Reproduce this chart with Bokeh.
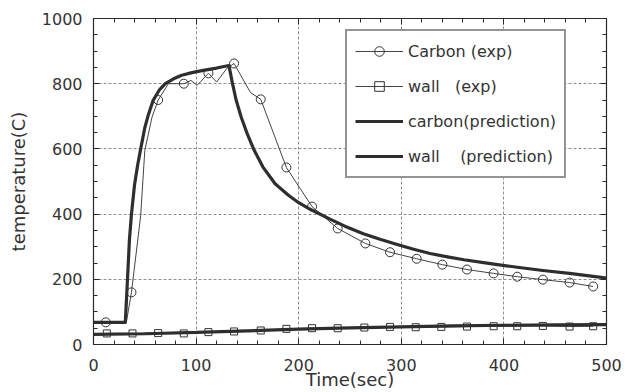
from bokeh.plotting import figure
from bokeh.models import (ColumnDataSource, Legend, LegendItem, LinearAxis,
                          SingleIntervalTicker, Range1d, CustomJSTickFormatter)
from bokeh.embed import file_html
from bokeh.resources import INLINE

# ---- data ----
# carbon experiment: recorded trace and the points marked with circles
carbon_exp_line_t = [12, 32, 37, 46, 50, 57, 63, 73, 88, 95, 101, 112, 120, 130,
                     137, 153, 163, 188, 213, 238, 265, 289, 315, 340, 364, 390,
                     413, 438, 464, 487]
carbon_exp_line_T = [68, 68, 160, 396, 595, 697, 750, 800, 800, 810, 795, 832,
                     805, 847, 862, 773, 752, 543, 423, 356, 310, 283, 263, 245,
                     230, 218, 208, 199, 190, 178]
carbon_exp_t = [12, 37, 63, 88, 112, 137, 163, 188, 213, 238, 265, 289, 315,
                340, 364, 390, 413, 438, 464, 487]
carbon_exp_T = [68, 160, 750, 800, 832, 862, 752, 543, 423, 356, 310, 283, 263,
                245, 230, 218, 208, 199, 190, 178]

wall_exp_t = [13, 38, 63, 88, 112, 137, 163, 188, 213, 238, 264, 289, 314,
              339, 364, 390, 413, 438, 464, 487]
wall_exp_T = [34, 34, 35, 34, 38, 40, 43, 48, 50, 50, 52, 54, 53,
              54, 55, 56, 56, 57, 55, 56]

carbon_pred_t = [0, 31, 32.5, 35, 37, 40, 43, 46, 50, 53, 58, 64, 70, 78, 86,
                 96, 107, 120, 132, 133, 135.5, 139, 144, 150, 156, 165, 177,
                 190, 200, 210, 220, 231, 245, 263, 280, 296, 312, 328, 345,
                 361, 387, 413, 438, 464, 487, 500]
carbon_pred_T = [68, 68, 160, 320, 400, 490, 550, 600, 665, 700, 748, 780, 800,
                 815, 826, 834, 841, 848, 856, 840, 800, 750, 697, 645, 600,
                 545, 493, 458, 435, 417, 401, 384, 363, 340, 322, 307, 292,
                 279, 269, 260, 248, 237, 227, 218, 209, 204]

wall_pred_t = [0, 50, 100, 150, 200, 250, 300, 350, 400, 450, 500]
wall_pred_T = [31, 33, 37, 42, 47, 51, 54, 57, 59, 60, 61]

x_label = "Time(sec)"
y_label = "temperature(C)"
legend_labels = ["Carbon (exp)", "wall   (exp)", "carbon(prediction)",
                 "wall    (prediction)"]

FONT = "DejaVu Sans"
INK = "#2a2a2a"
TXT = "#333333"

p = figure(width=634, height=392, output_backend="svg", toolbar_location=None,
           x_range=Range1d(0, 500), y_range=Range1d(0, 1000),
           min_border_left=93, min_border_right=28, min_border_top=18,
           min_border_bottom=48)
p.background_fill_color = "white"
p.border_fill_color = "white"
p.outline_line_color = INK
p.outline_line_width = 1.2

xt = SingleIntervalTicker(interval=100, num_minor_ticks=5)
yt = SingleIntervalTicker(interval=200, num_minor_ticks=4)
p.xaxis.ticker = xt
p.yaxis.ticker = yt

for ax in (p.xaxis[0], p.yaxis[0]):
    ax.axis_line_color = INK
    ax.major_tick_line_color = INK
    ax.minor_tick_line_color = INK
    ax.major_tick_in = 6
    ax.major_tick_out = 0
    ax.minor_tick_in = 4
    ax.minor_tick_out = 0
    ax.major_label_text_font = FONT
    ax.major_label_text_font_size = "16px"
    ax.major_label_text_color = TXT
    ax.axis_label_text_font = FONT
    ax.axis_label_text_font_size = "18px"
    ax.axis_label_text_font_style = "normal"
    ax.axis_label_text_color = TXT

p.xaxis.axis_label = x_label
p.yaxis.axis_label = y_label
p.xaxis.major_label_standoff = 14
p.xaxis.axis_label_standoff = -5
p.yaxis.major_label_standoff = 11
p.yaxis.axis_label_standoff = 10

# mirrored axes (ticks only)
for loc, tk in (("right", yt), ("above", xt)):
    ax = LinearAxis(ticker=tk, formatter=CustomJSTickFormatter(code="return ''"))
    ax.axis_line_color = INK
    ax.major_tick_line_color = INK
    ax.minor_tick_line_color = INK
    ax.major_tick_in = 6
    ax.major_tick_out = 0
    ax.minor_tick_in = 4
    ax.minor_tick_out = 0
    ax.major_label_standoff = 0
    p.add_layout(ax, loc)

p.xgrid.ticker = xt
p.ygrid.ticker = yt
p.grid.grid_line_color = "#8f8f8f"
p.grid.grid_line_dash = "3 2"
p.grid.grid_line_width = 1

ce_line = ColumnDataSource(dict(t=carbon_exp_line_t, T=carbon_exp_line_T))
ce = ColumnDataSource(dict(t=carbon_exp_t, T=carbon_exp_T))
we = ColumnDataSource(dict(t=wall_exp_t, T=wall_exp_T))
cp = ColumnDataSource(dict(t=carbon_pred_t, T=carbon_pred_T))
wp = ColumnDataSource(dict(t=wall_pred_t, T=wall_pred_T))

r_ce_line = p.line("t", "T", source=ce_line, line_color="#444444", line_width=1)
r_ce_pts = p.scatter("t", "T", source=ce, marker="circle", size=9,
                     fill_color=None, line_color="#333333", line_width=1)
r_we_line = p.line("t", "T", source=we, line_color="#444444", line_width=1)
r_we_pts = p.scatter("t", "T", source=we, marker="square", size=7,
                     fill_color=None, line_color="#333333", line_width=1)
r_cp = p.line("t", "T", source=cp, line_color="#2e2e2e", line_width=3.2,
              line_join="round")
r_wp = p.line("t", "T", source=wp, line_color="#2e2e2e", line_width=3.2)

legend = Legend(items=[
    LegendItem(label=legend_labels[0], renderers=[r_ce_line, r_ce_pts]),
    LegendItem(label=legend_labels[1], renderers=[r_we_line, r_we_pts]),
    LegendItem(label=legend_labels[2], renderers=[r_cp]),
    LegendItem(label=legend_labels[3], renderers=[r_wp]),
], location=(252, 166))
legend.label_text_font = FONT
legend.label_text_font_size = "16px"
legend.label_text_color = TXT
legend.glyph_width = 48
legend.glyph_height = 24
legend.label_height = 24
legend.label_standoff = 5
legend.spacing = 11
legend.padding = 8
legend.margin = 0
legend.border_line_color = INK
legend.border_line_width = 2
legend.background_fill_color = "white"
legend.background_fill_alpha = 1
p.add_layout(legend, "center")

open("out.html", "w").write(file_html(p, INLINE))
